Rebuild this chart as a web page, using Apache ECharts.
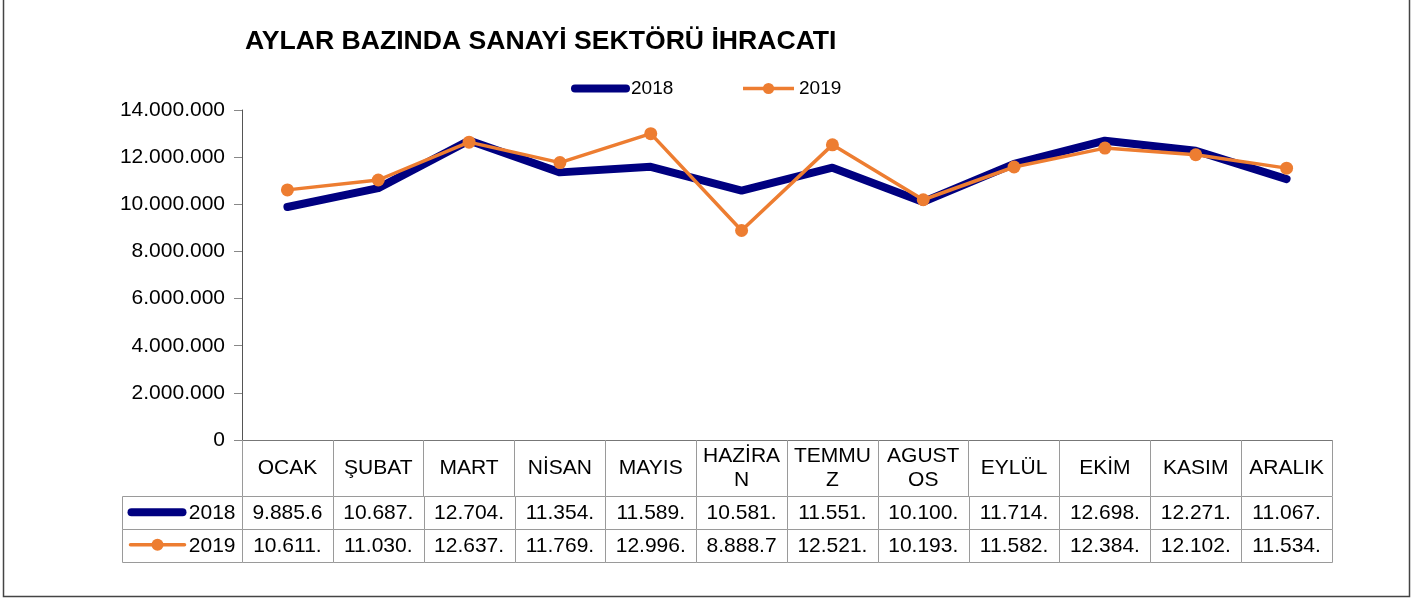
<!DOCTYPE html>
<html>
<head>
<meta charset="utf-8">
<title>Aylar bazında sanayi sektörü ihracatı</title>
<script src="https://cdn.jsdelivr.net/npm/echarts@6/dist/echarts.min.js"></script>
<style>
  html, body { margin: 0; background: #fff; }
  #chart { width: 1424px; height: 598px; }
</style>
</head>
<body>
<div id="chart"></div>
<script>
// aylar (kategori)
const months = ['OCAK', 'ŞUBAT', 'MART', 'NİSAN', 'MAYIS', 'HAZİRAN', 'TEMMUZ', 'AGUSTOS', 'EYLÜL', 'EKİM', 'KASIM', 'ARALIK'];
const years = ['2018', '2019'];
// ihracat değerleri (tablodan okunan, kesik kısımlar tahmini)
const export2018 = [9885600, 10687000, 12704000, 11354000, 11589000, 10581000, 11551000, 10100000, 11714000, 12698000, 12271000, 11067000];
const export2019 = [10611000, 11030000, 12637000, 11769000, 12996000, 8888700, 12521000, 10193000, 11582000, 12384000, 12102000, 11534000];
const yMax = 14000000;
const yStep = 2000000;

const colors = { y2018: '#000080', y2019: '#ED7D31' };
const font = 'Liberation Sans, Arial, sans-serif';

function dotted(v) {
  return String(Math.round(v)).replace(/\B(?=(\d{3})+(?!\d))/g, '.');
}

// excel tablosu gibi hücreye sığmayan kısmı kes
function cellText(v) {
  return dotted(v).slice(0, 7);
}

// hücreye sığmayan ay adlarını harf harf alt satıra kaydır
const measureCtx = document.createElement('canvas').getContext('2d');
measureCtx.font = '21px ' + font;
function wrapLabel(s) {
  const lines = [];
  let cur = '';
  for (const ch of s) {
    if (cur && measureCtx.measureText(cur + ch).width > 84) {
      lines.push(cur);
      cur = ch;
    } else {
      cur += ch;
    }
  }
  lines.push(cur);
  return lines.join('\n');
}

const tableData = [];
[export2018, export2019].forEach((arr, r) => {
  arr.forEach((v, i) => tableData.push([i, r, v]));
});

function renderCell(params, api) {
  const col = api.value(0);
  const row = api.value(1);
  const c = api.coord([col, row]);
  const s = api.size([1, 1]);
  const x = Math.round(c[0] - s[0] / 2) + 0.5;
  const y = Math.round(c[1] - s[1] / 2) + 0.5;
  const w = Math.round(s[0]);
  const h = Math.round(s[1]);
  const children = [
    { type: 'rect', shape: { x: x, y: y, width: w, height: h }, style: { fill: '#fff', stroke: '#9a9a9a', lineWidth: 1 } },
    { type: 'text', style: { x: c[0], y: c[1] + 1, text: cellText(api.value(2)), align: 'center', verticalAlign: 'middle', font: '21px ' + font, fill: '#000' } }
  ];
  if (col === 0) {
    // sol sütun: seri anahtarı
    const x0 = x - 120;
    const cy = c[1];
    children.push({ type: 'rect', shape: { x: x0, y: y, width: 120, height: h }, style: { fill: '#fff', stroke: '#9a9a9a', lineWidth: 1 } });
    if (row === 0) {
      children.push({ type: 'line', shape: { x1: x0 + 9, y1: cy, x2: x0 + 60, y2: cy }, style: { stroke: colors.y2018, lineWidth: 8, lineCap: 'round' } });
    } else {
      children.push({ type: 'line', shape: { x1: x0 + 8, y1: cy, x2: x0 + 62, y2: cy }, style: { stroke: colors.y2019, lineWidth: 3.5, lineCap: 'round' } });
      children.push({ type: 'circle', shape: { cx: x0 + 35, cy: cy, r: 6 }, style: { fill: colors.y2019 } });
    }
    children.push({ type: 'text', style: { x: x - 7, y: cy + 1, text: years[row], align: 'right', verticalAlign: 'middle', font: '21px ' + font, fill: '#000' } });
  }
  return { type: 'group', children: children };
}

const chart = echarts.init(document.getElementById('chart'));
chart.setOption({
  animation: false,
  backgroundColor: '#fff',
  textStyle: { fontFamily: font },
  title: {
    text: 'AYLAR BAZINDA SANAYİ SEKTÖRÜ İHRACATI',
    left: 240,
    top: 23,
    textStyle: { fontSize: 26.6, fontWeight: 'bold', color: '#000', fontFamily: font }
  },
  legend: {
    left: 566,
    top: 74,
    itemWidth: 51,
    itemHeight: 14,
    itemGap: 68,
    textStyle: { fontSize: 19, color: '#000' },
    data: [
      { name: '2018', lineStyle: { width: 8, cap: 'round' }, itemStyle: { opacity: 0 } },
      { name: '2019', lineStyle: { width: 3.5 } }
    ]
  },
  graphic: [
    { type: 'rect', silent: true, shape: { x: 3.5, y: -10, width: 1406, height: 606.5 }, style: { fill: 'none', stroke: '#444', lineWidth: 1.5 } }
  ],
  grid: [
    { left: 242, right: 92, top: 110, bottom: 158 },
    { left: 242, right: 92, top: 496, bottom: 37 }
  ],
  xAxis: [
    {
      type: 'category',
      gridIndex: 0,
      data: months,
      boundaryGap: true,
      axisLine: { lineStyle: { color: '#777', width: 1 } },
      axisTick: { show: true, interval: 0, length: 56, lineStyle: { color: '#9a9a9a' } },
      axisLabel: {
        interval: 0,
        fontSize: 21,
        color: '#000',
        lineHeight: 24,
        verticalAlign: 'middle',
        margin: 28,
        formatter: wrapLabel
      }
    },
    {
      type: 'category',
      gridIndex: 1,
      data: months,
      boundaryGap: true,
      show: false
    }
  ],
  yAxis: [
    {
      type: 'value',
      gridIndex: 0,
      min: 0,
      max: yMax,
      interval: yStep,
      axisLine: { show: true, lineStyle: { color: '#555' } },
      axisTick: { show: true, length: 8, lineStyle: { color: '#888' } },
      axisLabel: { fontSize: 21, color: '#000', margin: 17, formatter: dotted },
      splitLine: { show: false }
    },
    {
      type: 'category',
      gridIndex: 1,
      data: years,
      inverse: true,
      show: false
    }
  ],
  series: [
    {
      name: '2018',
      type: 'line',
      data: export2018,
      symbol: 'none',
      color: colors.y2018,
      lineStyle: { width: 8, cap: 'round', join: 'round' },
      z: 2
    },
    {
      name: '2019',
      type: 'line',
      data: export2019,
      symbol: 'circle',
      symbolSize: 13,
      color: colors.y2019,
      lineStyle: { width: 3.5, join: 'round' },
      z: 3
    },
    {
      type: 'custom',
      xAxisIndex: 1,
      yAxisIndex: 1,
      data: tableData,
      renderItem: renderCell,
      silent: true
    }
  ]
});
</script>
</body>
</html>
